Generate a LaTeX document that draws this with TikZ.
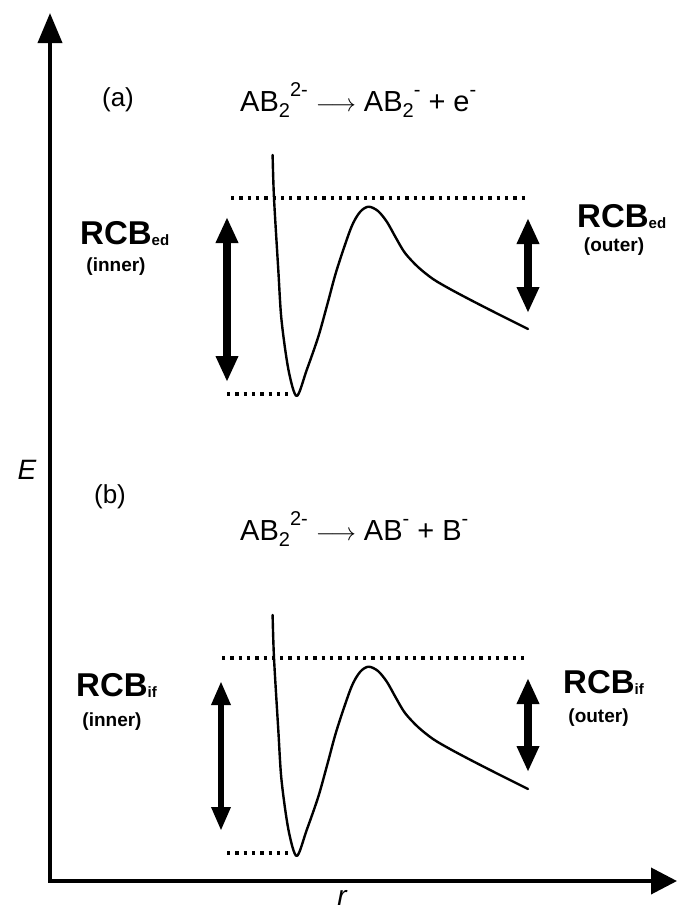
\documentclass[tikz,border=0pt]{standalone}
\usepackage{fontspec}
\setmainfont{Liberation Sans}
\usetikzlibrary{arrows.meta}
\newcommand{\chemsub}[1]{\raisebox{-6pt}{\fontsize{20}{20}\selectfont #1}}
\newcommand{\chemsup}[1]{\raisebox{15pt}{\fontsize{20}{20}\selectfont #1}}
\newcommand{\rcbtag}[1]{\raisebox{-1pt}{\fontsize{15}{15}\selectfont #1}}
\tikzset{
  pes-axis/.style={line width=3.8pt, line join=miter,
    {Triangle[length=30pt,width=24pt]}-{Triangle[length=26pt,width=26pt]}},
  pes-curve/.style={line width=2.4pt, line join=round, line cap=round},
  pes-level/.style={line width=3.3pt, dash pattern=on 3.3pt off 5pt},
  pes-barrier/.style={line width=8pt, {Triangle[length=26pt,width=21pt]}-{Triangle[length=26pt,width=21pt]}},
  pes-name/.style={font=\fontsize{33}{33}\selectfont\bfseries, inner sep=0pt, anchor=base west},
  pes-side/.style={font=\fontsize{19}{19}\selectfont\bfseries, inner sep=0pt},
  pes-panel/.style={font=\fontsize{26}{26}\selectfont, inner sep=0pt},
  pes-eq/.style={font=\fontsize{29}{29}\selectfont, inner sep=0pt, anchor=base west},
  pes-var/.style={font=\fontsize{28}{28}\selectfont\itshape, inner sep=0pt}
}

\begin{document}
\begin{tikzpicture}[x=1pt, y=-1pt]
  \useasboundingbox (0,0) rectangle (678,911);

  % Axes
  \coordinate (origin) at (50,881);
  \coordinate (e-tip) at (50,13);
  \coordinate (r-tip) at (677,881);
  \draw[pes-axis] (e-tip) -- (origin) -- (r-tip);
  \node[pes-var] (e-lbl) at (27,470) {E};
  \node[pes-var] (r-lbl) at (342,898) {r};

  % Panel (a): electron detachment
  \node[pes-panel] (a-lbl) at (118,100) {(a)};
  \node[pes-eq] (a-eq) at (240,111.7)
    {AB\chemsub{2}\chemsup{2-} $\longrightarrow$ AB\chemsub{2}\chemsup{-} + e\chemsup{-}};

  \draw[pes-curve] plot[smooth, tension=0.5] coordinates {
    (272.6,155) (274,198) (278.3,270) (281.5,320) (288.5,370)
    (296.7,396) (306.7,370) (318.3,336.7)
    (327.7,303) (336.7,270) (351,228) (360,212) (368.5,206.7) (378,211)
    (387,222) (396,238) (405,253) (418,267) (433,279) (450,289)
    (472.6,301) (500,315) (528,329)};

  \coordinate (a-top-l) at (231,198);
  \coordinate (a-top-r) at (528,198);
  \coordinate (a-bot-l) at (227,394);
  \coordinate (a-bot-r) at (293,394);
  \draw[pes-level] (a-top-l) -- (a-top-r);
  \draw[pes-level] (a-bot-l) -- (a-bot-r);

  \coordinate (a-in-t) at (227,217);
  \coordinate (a-in-b) at (227,382);
  \coordinate (a-out-t) at (528,218);
  \coordinate (a-out-b) at (528,313);
  \draw[pes-barrier] (a-in-t) -- (a-in-b);
  \draw[pes-barrier] (a-out-t) -- (a-out-b);

  \node[pes-name] (a-rcb-in) at (80,244.5) {RCB\rcbtag{ed}};
  \node[pes-side] (a-inner) at (116,267) {(inner)};
  \node[pes-name] (a-rcb-out) at (577,227.6) {RCB\rcbtag{ed}};
  \node[pes-side] (a-outer) at (614,247) {(outer)};

  % Panel (b): ionic fragmentation
  \node[pes-panel] (b-lbl) at (110,497) {(b)};
  \node[pes-eq] (b-eq) at (240,540)
    {AB\chemsub{2}\chemsup{2-} $\longrightarrow$ AB\chemsup{-} + B\chemsup{-}};

  \draw[pes-curve] plot[smooth, tension=0.5] coordinates {
    (272.6,615) (274,658) (278.3,730) (281.5,780) (288.5,830)
    (296.7,856) (306.7,830) (318.3,796.7)
    (327.7,763) (336.7,730) (351,688) (360,672) (368.5,666.7) (378,671)
    (387,682) (396,698) (405,713) (418,727) (433,739) (450,749)
    (472.6,761) (500,775) (528,789)};

  \coordinate (b-top-l) at (222,658);
  \coordinate (b-top-r) at (528,658);
  \coordinate (b-bot-l) at (227,853);
  \coordinate (b-bot-r) at (293,853);
  \draw[pes-level] (b-top-l) -- (b-top-r);
  \draw[pes-level] (b-bot-l) -- (b-bot-r);

  \coordinate (b-in-t) at (221,681);
  \coordinate (b-in-b) at (221,831);
  \coordinate (b-out-t) at (528,678);
  \coordinate (b-out-b) at (528,772);
  \draw[pes-barrier, line width=6.5pt,
    {Triangle[length=24pt,width=18pt]}-{Triangle[length=24pt,width=18pt]}] (b-in-t) -- (b-in-b);
  \draw[pes-barrier] (b-out-t) -- (b-out-b);

  \node[pes-name] (b-rcb-in) at (76,696.5) {RCB\rcbtag{if}};
  \node[pes-side] (b-inner) at (112,722) {(inner)};
  \node[pes-name] (b-rcb-out) at (563,693) {RCB\rcbtag{if}};
  \node[pes-side] (b-outer) at (598.5,718) {(outer)};
\end{tikzpicture}
\end{document}
